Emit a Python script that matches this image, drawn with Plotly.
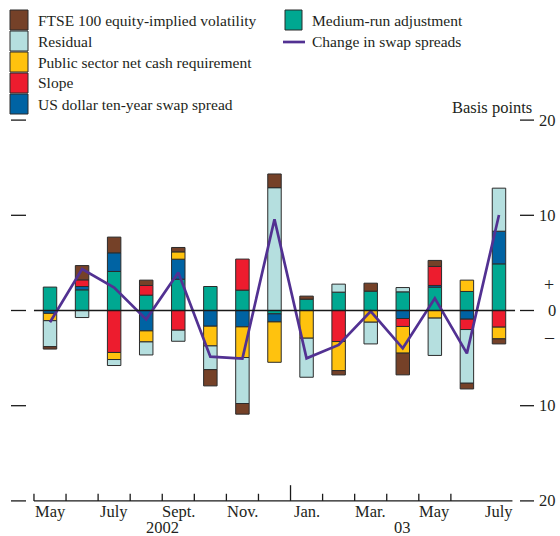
import plotly.graph_objects as go

# ---------------- data ----------------
months = ["May 2002", "Jun 2002", "Jul 2002", "Aug 2002", "Sep 2002", "Oct 2002",
          "Nov 2002", "Dec 2002", "Jan 2003", "Feb 2003", "Mar 2003", "Apr 2003",
          "May 2003", "Jun 2003", "Jul 2003"]

medium_run = [2.46, 2.17, 4.10, 1.61, 3.29, 2.52, 2.14, -0.35, 1.19, 1.93, 2.03, 1.96, 2.45, 2.00, 4.90]
us_swap = [-0.30, 0.35, 1.96, -2.14, 2.10, -1.65, -1.72, -0.85, 0, 0, 0, -0.84, 0.18, -0.91, 3.43]
slope = [0, 0.70, -4.41, 1.02, -2.07, 0, 3.26, 0, 0, -3.26, 0, -0.84, 2.00, -1.09, -1.75]
psncr = [-0.77, 0, -0.74, -1.16, 0.77, -2.07, -3.22, -4.24, -2.91, -3.05, -1.23, -2.80, -0.80, 1.19, -1.23]
residual = [-2.73, -0.74, -0.63, -1.37, -1.16, -2.49, -4.83, 12.90, -4.10, 0.84, -2.28, 0.45, -3.92, -5.64, 4.52]
ftse = [-0.25, 1.50, 1.65, 0.56, 0.46, -1.71, -1.12, 1.44, 0.32, -0.46, 0.84, -2.28, 0.63, -0.60, -0.53]
swap_change = [-1.24, 4.36, 2.40, -0.93, 4.00, -4.85, -5.06, 9.58, -5.02, -3.62, -0.08, -3.97, 1.28, -4.50, 10.03]

tick_labels = ["May", "July", "Sept.", "Nov.", "Jan.", "Mar.", "May", "July"]
tick_months = ["May 2002", "Jul 2002", "Sep 2002", "Nov 2002", "Jan 2003", "Mar 2003", "May 2003", "Jul 2003"]
year_labels = ["2002", "03"]
right_ticks = [20, 10, 0, -10, -20]

# ---------------- styling ----------------
C_FTSE = "#754128"
C_RES = "#b5dfdf"
C_PSNCR = "#ffc20e"
C_SLOPE = "#ed1c2e"
C_US = "#0063a3"
C_MED = "#00a891"
C_LINE = "#523192"
TXT = "#231f20"
FONT = "Liberation Serif"

W, H = 560, 536
x = list(range(len(months)))
# pixel mapping: month i -> 50 + 32.07*i ; value v -> 310.5 - 9.52*v
XS, X0 = 32.07, 50.0
YS, Y0 = 9.52, 310.5
xr = [(0 - X0) / XS, (W - X0) / XS]
yr = [(Y0 - H) / YS, Y0 / YS]


def sx(p):  # pixel x -> data x
    return (p - X0) / XS


def sy(p):  # pixel y -> data y
    return (Y0 - p) / YS


def clean(vals):
    return [v if v != 0 else None for v in vals]


fig = go.Figure()
series = [
    ("Medium-run adjustment", medium_run, C_MED),
    ("US dollar ten-year swap spread", us_swap, C_US),
    ("Slope", slope, C_SLOPE),
    ("Public sector net cash requirement", psncr, C_PSNCR),
    ("Residual", residual, C_RES),
    ("FTSE 100 equity-implied volatility", ftse, C_FTSE),
]
for name, vals, col in series:
    fig.add_trace(go.Bar(x=x, y=clean(vals), name=name, width=0.42,
                         marker=dict(color=col, line=dict(color="#2b2b2b", width=1)),
                         showlegend=False))

fig.add_trace(go.Scatter(x=x, y=swap_change, mode="lines", name="Change in swap spreads",
                         line=dict(color=C_LINE, width=2.7), showlegend=False))

shapes = []
ann = []
LC = "#1a1a1a"
# zero line and bottom axis
shapes.append(dict(type="line", xref="x", yref="y", x0=-0.5, x1=14.5, y0=0, y1=0,
                   line=dict(color=LC, width=1.3), layer="above"))
shapes.append(dict(type="line", xref="x", yref="y", x0=-0.5, x1=14.42, y0=-20, y1=-20,
                   line=dict(color=LC, width=1.3)))
# bottom ticks at month boundaries
for i in range(14):
    b = i - 0.5
    h = 1.65 if abs(b - 7.5) < 1e-6 else 0.75
    shapes.append(dict(type="line", xref="x", yref="y", x0=b, x1=b, y0=-20, y1=-20 + h,
                       line=dict(color=LC, width=1.3)))
# left and right tick stubs
for v in right_ticks:
    shapes.append(dict(type="line", xref="x", yref="y", x0=sx(11), x1=sx(26),
                       y0=v, y1=v, line=dict(color=LC, width=1.3)))
    shapes.append(dict(type="line", xref="x", yref="y", x0=sx(520), x1=sx(534),
                       y0=v, y1=v, line=dict(color=LC, width=1.3)))
    ann.append(dict(xref="x", yref="y", x=sx(558), y=v, text=str(abs(v)),
                    xanchor="right", yanchor="middle", showarrow=False,
                    font=dict(family=FONT, size=16.5, color=TXT)))
ann.append(dict(xref="x", yref="y", x=sx(549), y=2.7, text="+", xanchor="center",
                yanchor="middle", showarrow=False, font=dict(family=FONT, size=18, color=TXT)))
ann.append(dict(xref="x", yref="y", x=sx(549), y=-2.75, text="–", xanchor="center",
                yanchor="middle", showarrow=False, font=dict(family=FONT, size=18, color=TXT)))
ann.append(dict(xref="x", yref="y", x=sx(534), y=sy(107), text="Basis points",
                xanchor="right", yanchor="middle", showarrow=False,
                font=dict(family=FONT, size=16.5, color=TXT)))

# month labels
for lab, m in zip(tick_labels, tick_months):
    ann.append(dict(xref="x", yref="y", x=months.index(m), y=sy(511), text=lab,
                    xanchor="center", yanchor="middle", showarrow=False,
                    font=dict(family=FONT, size=16.5, color=TXT)))
yrs_pos = [(months.index("May 2002") + months.index("Dec 2002")) / 2,
           (months.index("Jan 2003") + months.index("Jul 2003")) / 2]
for lab, p in zip(year_labels, yrs_pos):
    ann.append(dict(xref="x", yref="y", x=p, y=sy(527.5), text=lab,
                    xanchor="center", yanchor="middle", showarrow=False,
                    font=dict(family=FONT, size=16.5, color=TXT)))

# legend (manual, two columns), positions in pixels
def px(v):
    return v / W


def py(v):
    return 1 - v / H


left_items = [("FTSE 100 equity-implied volatility", C_FTSE),
              ("Residual", C_RES),
              ("Public sector net cash requirement", C_PSNCR),
              ("Slope", C_SLOPE),
              ("US dollar ten-year swap spread", C_US)]
for k, (lab, col) in enumerate(left_items):
    cy = 20 + 21 * k
    shapes.append(dict(type="rect", xref="paper", yref="paper", x0=px(10), x1=px(28),
                       y0=py(cy - 10), y1=py(cy + 10), fillcolor=col,
                       line=dict(color="#2b2b2b", width=1)))
    ann.append(dict(xref="paper", yref="paper", x=px(36), y=py(cy), text=lab,
                    xanchor="left", yanchor="middle", showarrow=False,
                    font=dict(family=FONT, size=15.5, color=TXT)))
shapes.append(dict(type="rect", xref="paper", yref="paper", x0=px(285), x1=px(302),
                   y0=py(10), y1=py(30), fillcolor=C_MED, line=dict(color="#2b2b2b", width=1)))
ann.append(dict(xref="paper", yref="paper", x=px(310), y=py(20), text="Medium-run adjustment",
                xanchor="left", yanchor="middle", showarrow=False,
                font=dict(family=FONT, size=15.5, color=TXT)))
shapes.append(dict(type="line", xref="paper", yref="paper", x0=px(283), x1=px(305),
                   y0=py(42), y1=py(42), line=dict(color=C_LINE, width=2.7)))
ann.append(dict(xref="paper", yref="paper", x=px(310), y=py(41), text="Change in swap spreads",
                xanchor="left", yanchor="middle", showarrow=False,
                font=dict(family=FONT, size=15.5, color=TXT)))

fig.update_layout(
    width=W, height=H, barmode="relative",
    margin=dict(l=0, r=0, t=0, b=0),
    paper_bgcolor="white", plot_bgcolor="white",
    xaxis=dict(range=xr, visible=False, fixedrange=True),
    yaxis=dict(range=yr, visible=False, fixedrange=True),
    shapes=shapes, annotations=ann, showlegend=False,
    hovermode=False,
)

# remove the page's default body margin so the figure fills the window exactly
fig.write_html("out.html", config={"displayModeBar": False, "staticPlot": True},
               post_script="document.body.style.margin='0';document.body.style.overflow='hidden';")
